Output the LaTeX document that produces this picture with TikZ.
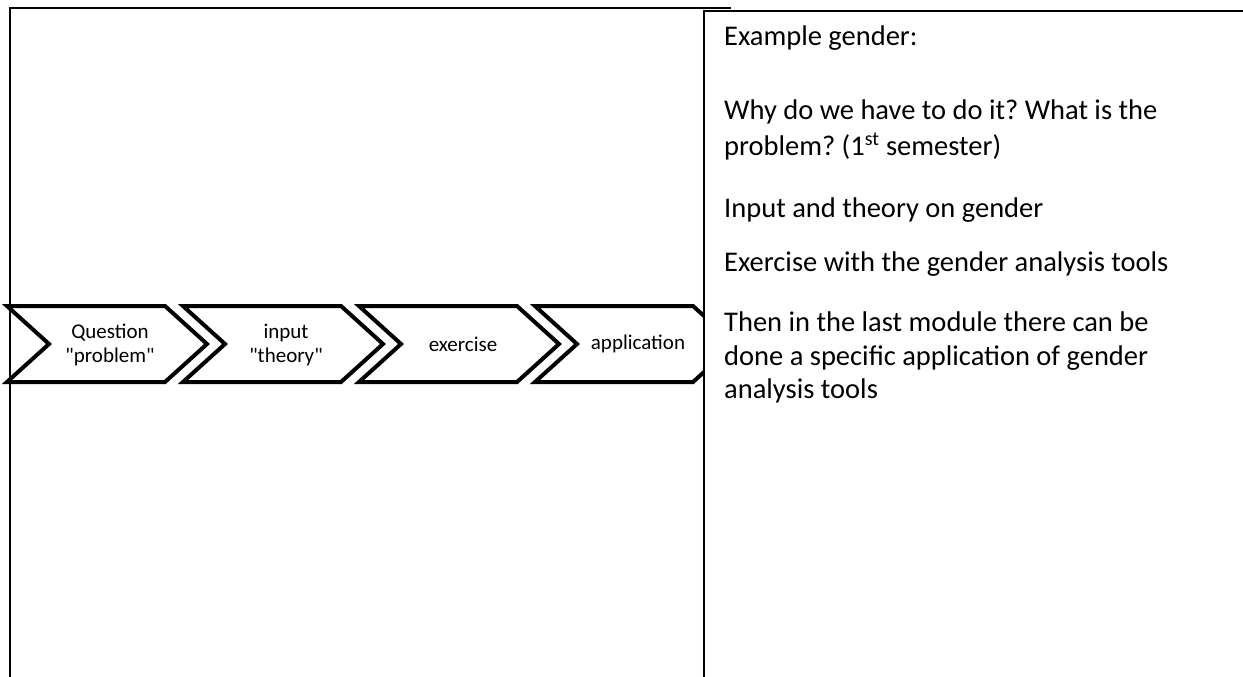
\documentclass[tikz,border=0pt]{standalone}
\usepackage{fontspec}
\setmainfont{Carlito}[Ligatures=TeXOff]
\frenchspacing
\begin{document}
\begin{tikzpicture}[x=1pt,y=-1pt,
  chev/.style={draw=black,line width=4pt,fill=white,line join=miter,miter limit=10},
  chevtext/.style={align=center,font=\fontsize{21}{24}\selectfont,inner sep=0pt},
  rowtext/.style={anchor=base west,font=\fontsize{28.5}{34}\selectfont,inner sep=0pt},
  rule/.style={draw=black,line width=1.6pt,line join=miter}]
\useasboundingbox (0,0) rectangle (1243,677);
\fill[white] (0,0) rectangle (1243,677);
% chevrons
\begin{scope}
\clip (0,0) rectangle (704,677);
\foreach \L in {7,183,359,535}{
  \path[chev] (\L,306) -- (\L+158,306) -- (\L+200,344) -- (\L+158,382) -- (\L,382) -- (\L+42,344) -- cycle;
}
\end{scope}
\node[chevtext] (c1) at (110,345) {Question\\"problem"};
\node[chevtext] (c2) at (286,345) {input\\"theory"};
\node[chevtext] (c3) at (463,344) {exercise};
\node[chevtext] (c4) at (638,344) {application};
% table borders
\draw[rule] (731,8) -- (10,8) -- (10,677);
\draw[rule] (1243,11) -- (704,11) -- (704,677);
% right column text
\node[rowtext] (r1) at (724,46) {Example gender:};
\node[rowtext] (r2) at (724,120) {Why do we have to do it? What is the};
\node[rowtext] (r3) at (724,155) {problem? (1\textsuperscript{st} semester)};
\node[rowtext] (r4) at (724,217) {Input and theory on gender};
\node[rowtext] (r5) at (724,271) {Exercise with the gender analysis tools};
\node[rowtext] (r6) at (724,331) {Then in the last module there can be};
\node[rowtext] (r7) at (724,365) {done a specific application of gender};
\node[rowtext] (r8) at (724,398) {analysis tools};
\end{tikzpicture}
\end{document}
